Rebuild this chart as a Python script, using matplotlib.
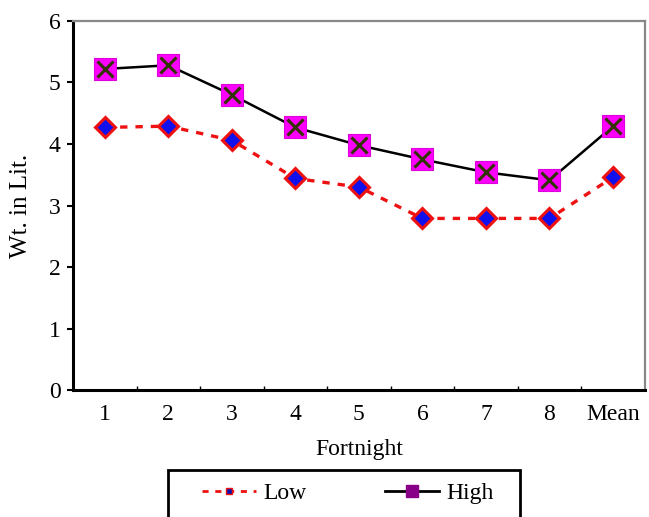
import matplotlib.pyplot as plt
from matplotlib.lines import Line2D
from matplotlib.patches import Rectangle

plt.rcParams['font.family'] = ['Liberation Serif', 'DejaVu Serif']

categories = ['1', '2', '3', '4', '5', '6', '7', '8', 'Mean']
low = [4.27, 4.29, 4.06, 3.44, 3.30, 2.79, 2.79, 2.79, 3.46]
high = [5.22, 5.28, 4.80, 4.27, 3.98, 3.75, 3.54, 3.41, 4.29]

x = list(range(len(categories)))

fig = plt.figure(figsize=(6.49, 5.17), dpi=100)
ax = fig.add_axes([0.1125, 0.2456, 0.881, 0.7138])

# Low series: red dotted line, blue diamonds with red edge
ax.plot(x, low, linestyle=(0, (2.2, 2.4)), color='#ee1111', lw=2.4,
        marker='D', markersize=10, markerfacecolor='#1010ee',
        markeredgecolor='#ee1111', markeredgewidth=2.2, zorder=3)

# High series: black line, magenta squares with a dark cross
ax.plot(x, high, color='black', lw=1.8, marker='s', markersize=16,
        markerfacecolor='#ff00ff', markeredgecolor='#dd00dd',
        markeredgewidth=0.8, zorder=4)
ax.plot(x, high, linestyle='none', marker='x', markersize=12,
        markeredgecolor='#333300', markeredgewidth=2.2, zorder=5)

ax.set_xlim(-0.5, len(categories) - 0.5)
ax.set_ylim(0, 6)
ax.set_yticks(range(7))
ax.set_xticks(x)
ax.set_xticklabels(categories)
ax.set_xticks([i + 0.5 for i in x[:-1]], minor=True)

ax.tick_params(axis='x', which='major', length=0, pad=10, labelsize=17)
ax.tick_params(axis='x', which='minor', length=3, direction='in', width=1)
ax.tick_params(axis='y', length=4, width=1.5, pad=5, labelsize=17)

for side in ['left', 'bottom']:
    ax.spines[side].set_linewidth(2.2)
    ax.spines[side].set_color('black')
for side in ['top', 'right']:
    ax.spines[side].set_linewidth(1.6)
    ax.spines[side].set_color('#888888')

ax.set_xlabel('Fortnight', fontsize=17, labelpad=10)
ax.set_ylabel('Wt. in Lit.', fontsize=18, labelpad=12)

# legend box, cut off at the bottom edge of the figure
fig.patches.append(Rectangle((0.259, -0.05), 0.542, 0.141, transform=fig.transFigure,
                             fill=False, edgecolor='black', linewidth=2))

h_low = Line2D([], [], linestyle=(0, (2.2, 2.4)), color='#ee1111', lw=2,
               marker='s', markersize=4, markerfacecolor='#1010aa',
               markeredgecolor='#ee1111')
h_high = Line2D([], [], color='black', lw=2, marker='s', markersize=8,
                markerfacecolor='#880088', markeredgecolor='#880088')
leg = fig.legend([h_low, h_high], ['Low', 'High'], ncol=2,
                 loc='center', bbox_to_anchor=(0.536, 0.046),
                 fontsize=17, frameon=False,
                 handlelength=2.3, handletextpad=0.33,
                 borderpad=0.2, columnspacing=3.3)

fig.savefig('out.png', dpi=100)
